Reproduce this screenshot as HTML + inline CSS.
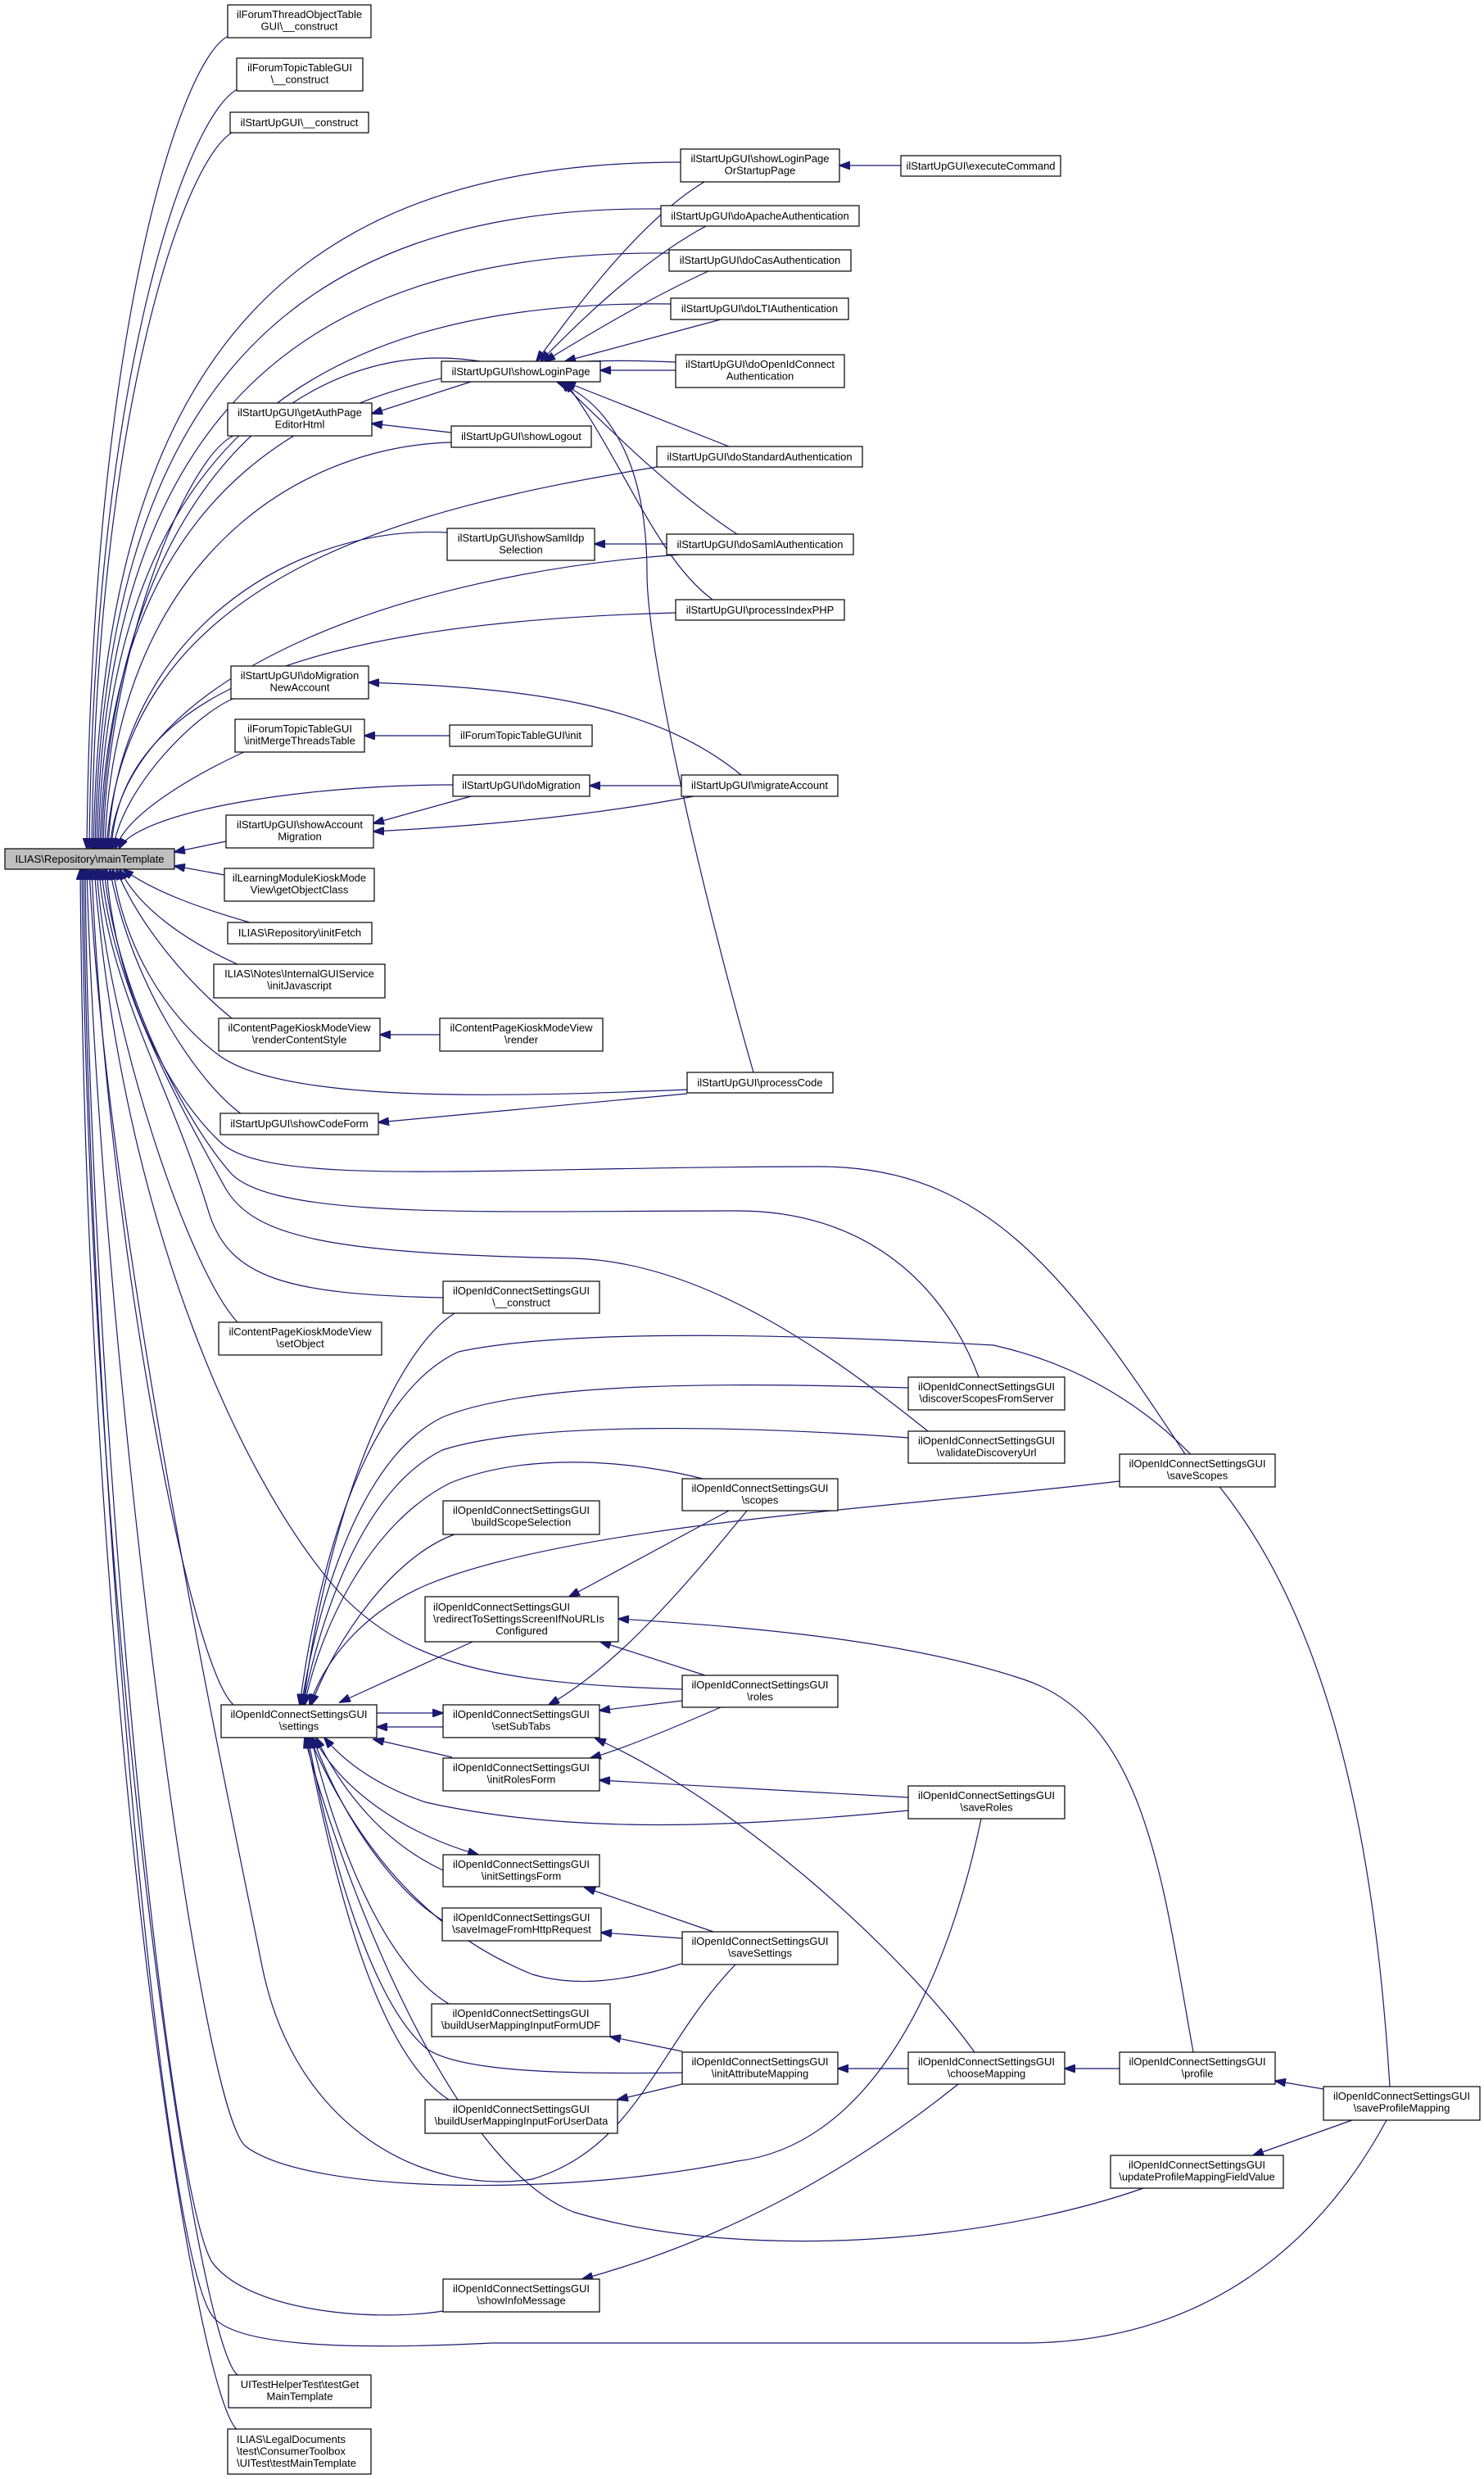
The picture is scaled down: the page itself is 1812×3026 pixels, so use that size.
<!DOCTYPE html>
<html><head><meta charset="utf-8"><style>
html,body{margin:0;padding:0;background:#fff;}
svg{display:block;}
text{font-family:"Liberation Sans",Arial,sans-serif;font-size:13px;fill:#000;}
.e{fill:none;stroke:#191970;stroke-width:1.2;marker-end:url(#a);}
.n{fill:#fff;stroke:#000;stroke-width:1.2;}
</style></head><body>
<svg width="1812" height="3026" viewBox="0 0 1812 3026" xmlns="http://www.w3.org/2000/svg">
<defs><marker id="a" markerWidth="14" markerHeight="10" refX="13" refY="5" orient="auto" markerUnits="userSpaceOnUse"><path d="M0,0 L14,5 L0,10 z" fill="#191970" stroke="#191970"/></marker></defs>
<g>
<!-- upper edges into mainTemplate -->
<path class="e" d="M279,44 C222,70 112,400 106,1036"/>
<path class="e" d="M292,108 C232,133 115,450 109,1036"/>
<path class="e" d="M287,160 C227,185 118,500 112,1036"/>
<path class="e" d="M831,198 C344,198 124,449 114,1036"/>
<path class="e" d="M807,255 C346,250 126,489 116,1036"/>
<path class="e" d="M817,309 C348,305 128,527 118,1036"/>
<path class="e" d="M819,371 C350,365 130,570 120,1036"/>
<path class="e" d="M825,442 C352,420 132,620 122,1036"/>
<path class="e" d="M586,441 C354,405 134,620 124,1036"/>
<path class="e" d="M287,531 C227,556 130,800 126,1036"/>
<path class="e" d="M551,540 C358,545 138,690 128,1036"/>
<path class="e" d="M802,570 C500,620 150,700 130,1036"/>
<path class="e" d="M546,650 C362,640 142,770 132,1036"/>
<path class="e" d="M830,677 C500,700 150,820 134,1036"/>
<path class="e" d="M825,748 C366,760 146,850 136,1036"/>
<path class="e" d="M287,852 C240,870 150,960 138,1036"/>
<path class="e" d="M300,917 C250,940 155,990 141,1036"/>
<path class="e" d="M553,958 C370,958 170,990 145,1036"/>
<path class="e" d="M276,1027 L213,1040"/>
<!-- StartUp internal -->
<path class="e" d="M860,222 C780,270 700,380 655,441"/>
<path class="e" d="M862,276 C780,320 700,400 660,441"/>
<path class="e" d="M865,331 C780,370 700,420 665,441"/>
<path class="e" d="M880,390 L690,441"/>
<path class="e" d="M825,452 L733,452"/>
<path class="e" d="M890,545 L690,466"/>
<path class="e" d="M900,652 C820,600 740,520 685,466"/>
<path class="e" d="M870,732 C800,680 760,560 690,466"/>
<path class="e" d="M920,1309 C860,1100 790,800 790,700 C790,560 740,490 680,466"/>
<path class="e" d="M575,466 L454,505"/>
<path class="e" d="M551,528 L454,517"/>
<path class="e" d="M1100,202 L1025,202"/>
<path class="e" d="M814,664 L726,664"/>
<path class="e" d="M905,946 C800,860 650,840 450,833"/>
<path class="e" d="M549,898 L445,898"/>
<path class="e" d="M832,959 L720,959"/>
<path class="e" d="M575,972 L456,1005"/>
<path class="e" d="M847,972 C700,1000 550,1010 456,1015"/>
<path class="e" d="M537,1263 L464,1263"/>
<path class="e" d="M839,1335 L462,1370"/>
<!-- lower edges into mainTemplate -->
<path class="e" d="M274,1068 L213,1057"/>
<path class="e" d="M305,1126 C250,1110 190,1090 150,1061"/>
<path class="e" d="M290,1177 C230,1150 170,1110 146,1061"/>
<path class="e" d="M283,1243 C230,1200 170,1130 142,1061"/>
<path class="e" d="M839,1330 C600,1340 350,1345 270,1290 C200,1240 150,1150 138,1061"/>
<path class="e" d="M295,1360 C240,1320 160,1200 134,1061"/>
<path class="e" d="M1447,1775 C1300,1550 1200,1424 1000,1424 C600,1424 330,1450 270,1395 C200,1330 140,1200 130,1061"/>
<path class="e" d="M1195,1681 C1150,1560 1050,1478 900,1478 C600,1478 330,1490 280,1430 C220,1360 140,1200 127,1061"/>
<path class="e" d="M1133,1747 C1000,1640 850,1540 700,1536 C400,1530 310,1510 275,1450 C220,1350 135,1200 124,1061"/>
<path class="e" d="M541,1584 C350,1580 280,1560 255,1480 C210,1330 130,1200 121,1061"/>
<path class="e" d="M290,1614 C230,1550 130,1250 118,1061"/>
<path class="e" d="M833,2062 C600,2055 500,2030 420,1950 C300,1820 150,1500 115,1061"/>
<path class="e" d="M285,2081 C230,2030 130,1500 112,1061"/>
<path class="e" d="M898,2398 C800,2500 780,2620 650,2660 C520,2680 360,2600 320,2400 C280,2200 130,1500 109,1061"/>
<path class="e" d="M1198,2220 C1150,2450 1050,2620 900,2638 C700,2680 380,2680 300,2620 C240,2570 120,1600 106,1061"/>
<path class="e" d="M541,2821 C450,2835 300,2820 258,2760 C200,2650 110,1700 104,1061"/>
<path class="e" d="M1693,2588 C1600,2760 1450,2860 1250,2860 L600,2860 C400,2870 290,2860 262,2830 C200,2770 110,1800 102,1061"/>
<path class="e" d="M290,2899 C240,2860 110,2000 100,1061"/>
<path class="e" d="M290,2966 C240,2930 105,2100 98,1061"/>
<!-- OIDC group -->
<path class="e" d="M555,1603 C480,1650 400,1850 370,2081"/>
<path class="e" d="M1697,2547 C1670,2100 1560,1720 1213,1642 C1000,1630 700,1620 560,1650 C450,1700 390,1900 366,2081"/>
<path class="e" d="M1109,1694 C900,1688 650,1685 540,1730 C440,1780 390,1950 368,2081"/>
<path class="e" d="M1109,1755 C900,1740 650,1735 540,1770 C440,1820 390,1980 370,2081"/>
<path class="e" d="M858,1805 C780,1785 650,1770 550,1810 C450,1860 390,1990 372,2081"/>
<path class="e" d="M1367,1808 C1100,1840 700,1860 520,1935 C440,1970 395,2030 378,2081"/>
<path class="e" d="M555,1873 C480,1900 410,2000 380,2081"/>
<path class="e" d="M577,2004 L415,2078"/>
<path class="e" d="M460,2091 L541,2091"/>
<path class="e" d="M541,2108 L460,2108"/>
<path class="e" d="M552,2145 L456,2123"/>
<path class="e" d="M912,1844 C850,1920 760,2030 670,2081"/>
<path class="e" d="M833,2076 L732,2088"/>
<path class="e" d="M1190,2505 C1100,2380 900,2200 727,2122"/>
<path class="e" d="M890,1844 L695,1949"/>
<path class="e" d="M861,2045 L733,2004"/>
<path class="e" d="M1457,2505 C1420,2300 1400,2100 1250,2050 C1100,2000 900,1985 755,1976"/>
<path class="e" d="M880,2084 C820,2110 760,2135 721,2146"/>
<path class="e" d="M1109,2194 C900,2183 800,2176 732,2173"/>
<path class="e" d="M1109,2210 C900,2230 700,2240 520,2200 C460,2180 420,2150 396,2121"/>
<path class="e" d="M383,2121 C420,2190 500,2240 584,2264"/>
<path class="e" d="M541,2283 C470,2250 420,2190 386,2121"/>
<path class="e" d="M871,2358 L714,2304"/>
<path class="e" d="M833,2366 L734,2359"/>
<path class="e" d="M540,2344 C470,2300 410,2200 382,2121"/>
<path class="e" d="M832,2397 C760,2420 700,2425 650,2410 C500,2350 420,2220 378,2121"/>
<path class="e" d="M833,2504 L745,2486"/>
<path class="e" d="M833,2530 C700,2532 560,2530 520,2500 C450,2440 400,2250 376,2121"/>
<path class="e" d="M833,2544 L754,2563"/>
<path class="e" d="M548,2446 C470,2400 410,2250 380,2121"/>
<path class="e" d="M548,2563 C450,2500 400,2250 374,2121"/>
<path class="e" d="M1396,2671 C1200,2740 900,2760 700,2700 C550,2640 420,2300 372,2121"/>
<path class="e" d="M1109,2525 L1023,2525"/>
<path class="e" d="M1367,2525 L1300,2525"/>
<path class="e" d="M1616,2550 L1557,2540"/>
<path class="e" d="M1651,2588 L1530,2631"/>
<path class="e" d="M1170,2544 C1050,2640 900,2730 711,2782"/>
</g>
<g text-anchor="middle">
<rect class="n" x="278" y="6" width="175" height="40"/><text x="365.5" y="22">ilForumThreadObjectTable</text><text x="365.5" y="36.5">GUI\__construct</text>
<rect class="n" x="289" y="71" width="154" height="40"/><text x="366" y="87">ilForumTopicTableGUI</text><text x="366" y="101.5">\__construct</text>
<rect class="n" x="281" y="137" width="169" height="25"/><text x="365.5" y="154">ilStartUpGUI\__construct</text>
<rect class="n" x="831" y="182" width="194" height="40"/><text x="928" y="198">ilStartUpGUI\showLoginPage</text><text x="928" y="212.5">OrStartupPage</text>
<rect class="n" x="1100" y="190" width="195" height="25"/><text x="1197.5" y="207">ilStartUpGUI\executeCommand</text>
<rect class="n" x="807" y="251" width="242" height="25"/><text x="928" y="268">ilStartUpGUI\doApacheAuthentication</text>
<rect class="n" x="817" y="305" width="222" height="26"/><text x="928" y="322">ilStartUpGUI\doCasAuthentication</text>
<rect class="n" x="819" y="364" width="217" height="26"/><text x="927.5" y="381">ilStartUpGUI\doLTIAuthentication</text>
<rect class="n" x="825" y="433" width="206" height="40"/><text x="928" y="449">ilStartUpGUI\doOpenIdConnect</text><text x="928" y="463.5">Authentication</text>
<rect class="n" x="539" y="441" width="194" height="25"/><text x="636" y="458">ilStartUpGUI\showLoginPage</text>
<rect class="n" x="278" y="492" width="176" height="40"/><text x="366" y="508">ilStartUpGUI\getAuthPage</text><text x="366" y="522.5">EditorHtml</text>
<rect class="n" x="551" y="520" width="171" height="26"/><text x="636.5" y="537">ilStartUpGUI\showLogout</text>
<rect class="n" x="802" y="545" width="251" height="25"/><text x="927.5" y="562">ilStartUpGUI\doStandardAuthentication</text>
<rect class="n" x="546" y="645" width="180" height="39"/><text x="636" y="661">ilStartUpGUI\showSamlIdp</text><text x="636" y="675.5">Selection</text>
<rect class="n" x="814" y="652" width="228" height="25"/><text x="928" y="669">ilStartUpGUI\doSamlAuthentication</text>
<rect class="n" x="825" y="732" width="206" height="25"/><text x="928" y="749">ilStartUpGUI\processIndexPHP</text>
<rect class="n" x="282" y="813" width="168" height="40"/><text x="366" y="829">ilStartUpGUI\doMigration</text><text x="366" y="843.5">NewAccount</text>
<rect class="n" x="287" y="878" width="158" height="40"/><text x="366" y="894">ilForumTopicTableGUI</text><text x="366" y="908.5">\initMergeThreadsTable</text>
<rect class="n" x="549" y="885" width="174" height="26"/><text x="636" y="902">ilForumTopicTableGUI\init</text>
<rect class="n" x="553" y="946" width="167" height="26"/><text x="636.5" y="963">ilStartUpGUI\doMigration</text>
<rect class="n" x="832" y="946" width="191" height="26"/><text x="927.5" y="963">ilStartUpGUI\migrateAccount</text>
<rect class="n" x="276" y="995" width="180" height="40"/><text x="366" y="1011">ilStartUpGUI\showAccount</text><text x="366" y="1025.5">Migration</text>
<rect x="6" y="1036" width="207" height="25" fill="#bfbfbf" stroke="#000" stroke-width="1.2"/><text x="109.5" y="1053">ILIAS\Repository\mainTemplate</text>
<rect class="n" x="274" y="1060" width="183" height="40"/><text x="365.5" y="1076">ilLearningModuleKioskMode</text><text x="365.5" y="1090.5">View\getObjectClass</text>
<rect class="n" x="278" y="1126" width="176" height="26"/><text x="366" y="1143">ILIAS\Repository\initFetch</text>
<rect class="n" x="261" y="1177" width="209" height="41"/><text x="365.5" y="1193">ILIAS\Notes\InternalGUIService</text><text x="365.5" y="1207.5">\initJavascript</text>
<rect class="n" x="267" y="1243" width="197" height="40"/><text x="365.5" y="1259">ilContentPageKioskModeView</text><text x="365.5" y="1273.5">\renderContentStyle</text>
<rect class="n" x="537" y="1243" width="199" height="40"/><text x="636.5" y="1259">ilContentPageKioskModeView</text><text x="636.5" y="1273.5">\render</text>
<rect class="n" x="839" y="1309" width="178" height="25"/><text x="928" y="1326">ilStartUpGUI\processCode</text>
<rect class="n" x="269" y="1359" width="193" height="26"/><text x="365.5" y="1376">ilStartUpGUI\showCodeForm</text>
<rect class="n" x="541" y="1564" width="191" height="39"/><text x="636.5" y="1580">ilOpenIdConnectSettingsGUI</text><text x="636.5" y="1594.5">\__construct</text>
<rect class="n" x="267" y="1614" width="199" height="40"/><text x="366.5" y="1630">ilContentPageKioskModeView</text><text x="366.5" y="1644.5">\setObject</text>
<rect class="n" x="1109" y="1681" width="191" height="40"/><text x="1204.5" y="1697">ilOpenIdConnectSettingsGUI</text><text x="1204.5" y="1711.5">\discoverScopesFromServer</text>
<rect class="n" x="1109" y="1747" width="191" height="39"/><text x="1204.5" y="1763">ilOpenIdConnectSettingsGUI</text><text x="1204.5" y="1777.5">\validateDiscoveryUrl</text>
<rect class="n" x="1367" y="1775" width="190" height="40"/><text x="1462" y="1791">ilOpenIdConnectSettingsGUI</text><text x="1462" y="1805.5">\saveScopes</text>
<rect class="n" x="833" y="1805" width="190" height="39"/><text x="928" y="1821">ilOpenIdConnectSettingsGUI</text><text x="928" y="1835.5">\scopes</text>
<rect class="n" x="541" y="1832" width="191" height="41"/><text x="636.5" y="1848">ilOpenIdConnectSettingsGUI</text><text x="636.5" y="1862.5">\buildScopeSelection</text>
<rect class="n" x="519" y="1949" width="236" height="55"/><text x="529" y="1966" text-anchor="start">ilOpenIdConnectSettingsGUI</text><text x="529" y="1980.5" text-anchor="start">\redirectToSettingsScreenIfNoURLIs</text><text x="637" y="1995">Configured</text>
<rect class="n" x="833" y="2045" width="190" height="39"/><text x="928" y="2061">ilOpenIdConnectSettingsGUI</text><text x="928" y="2075.5">\roles</text>
<rect class="n" x="270" y="2081" width="190" height="40"/><text x="365" y="2097">ilOpenIdConnectSettingsGUI</text><text x="365" y="2111.5">\settings</text>
<rect class="n" x="541" y="2081" width="191" height="40"/><text x="636.5" y="2097">ilOpenIdConnectSettingsGUI</text><text x="636.5" y="2111.5">\setSubTabs</text>
<rect class="n" x="541" y="2146" width="191" height="40"/><text x="636.5" y="2162">ilOpenIdConnectSettingsGUI</text><text x="636.5" y="2176.5">\initRolesForm</text>
<rect class="n" x="1109" y="2180" width="191" height="40"/><text x="1204.5" y="2196">ilOpenIdConnectSettingsGUI</text><text x="1204.5" y="2210.5">\saveRoles</text>
<rect class="n" x="541" y="2264" width="191" height="39"/><text x="636.5" y="2280">ilOpenIdConnectSettingsGUI</text><text x="636.5" y="2294.5">\initSettingsForm</text>
<rect class="n" x="540" y="2329" width="194" height="40"/><text x="637" y="2345">ilOpenIdConnectSettingsGUI</text><text x="637" y="2359.5">\saveImageFromHttpRequest</text>
<rect class="n" x="833" y="2358" width="190" height="40"/><text x="928" y="2374">ilOpenIdConnectSettingsGUI</text><text x="928" y="2388.5">\saveSettings</text>
<rect class="n" x="527" y="2446" width="218" height="40"/><text x="636" y="2462">ilOpenIdConnectSettingsGUI</text><text x="636" y="2476.5">\buildUserMappingInputFormUDF</text>
<rect class="n" x="833" y="2505" width="190" height="39"/><text x="928" y="2521">ilOpenIdConnectSettingsGUI</text><text x="928" y="2535.5">\initAttributeMapping</text>
<rect class="n" x="1109" y="2505" width="191" height="39"/><text x="1204.5" y="2521">ilOpenIdConnectSettingsGUI</text><text x="1204.5" y="2535.5">\chooseMapping</text>
<rect class="n" x="1367" y="2505" width="190" height="39"/><text x="1462" y="2521">ilOpenIdConnectSettingsGUI</text><text x="1462" y="2535.5">\profile</text>
<rect class="n" x="1616" y="2547" width="191" height="41"/><text x="1711.5" y="2563">ilOpenIdConnectSettingsGUI</text><text x="1711.5" y="2577.5">\saveProfileMapping</text>
<rect class="n" x="519" y="2563" width="235" height="41"/><text x="636.5" y="2579">ilOpenIdConnectSettingsGUI</text><text x="636.5" y="2593.5">\buildUserMappingInputForUserData</text>
<rect class="n" x="1356" y="2631" width="211" height="40"/><text x="1461.5" y="2647">ilOpenIdConnectSettingsGUI</text><text x="1461.5" y="2661.5">\updateProfileMappingFieldValue</text>
<rect class="n" x="541" y="2782" width="191" height="40"/><text x="636.5" y="2798">ilOpenIdConnectSettingsGUI</text><text x="636.5" y="2812.5">\showInfoMessage</text>
<rect class="n" x="279" y="2899" width="174" height="40"/><text x="366" y="2915">UITestHelperTest\testGet</text><text x="366" y="2929.5">MainTemplate</text>
<rect class="n" x="278" y="2965" width="175" height="55"/><text x="289" y="2982" text-anchor="start">ILIAS\LegalDocuments</text><text x="289" y="2996.5" text-anchor="start">\test\ConsumerToolbox</text><text x="289" y="3011" text-anchor="start">\UITest\testMainTemplate</text>
</g>
</svg>
</body></html>
